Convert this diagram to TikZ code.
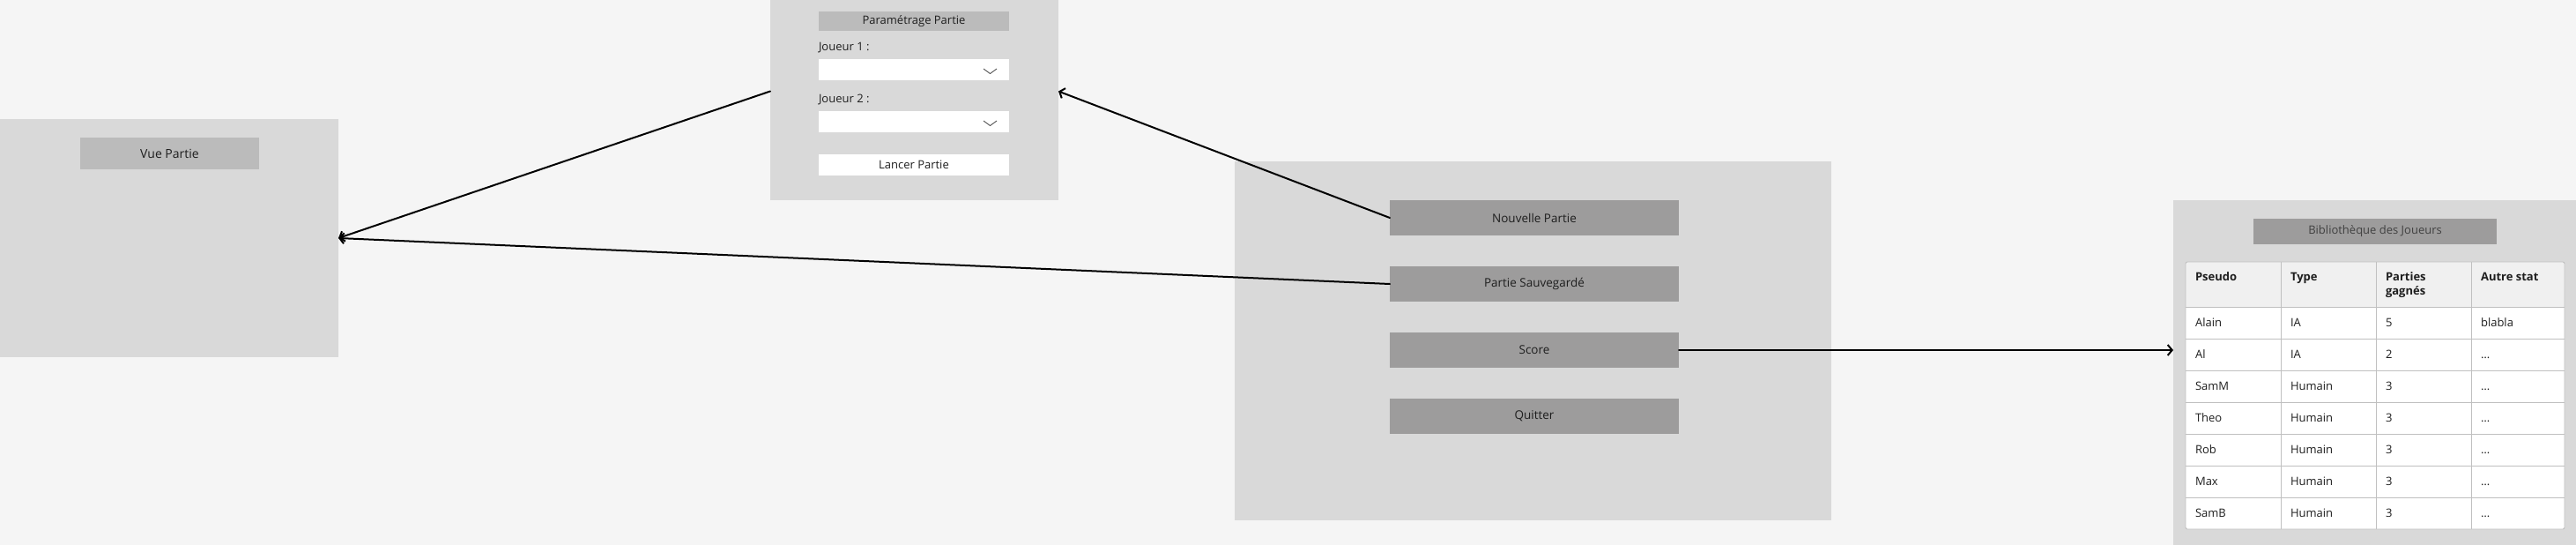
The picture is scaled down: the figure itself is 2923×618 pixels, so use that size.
\documentclass[tikz,border=0pt]{standalone}
\usepackage{fontspec}
\setmainfont{Open Sans}
\usetikzlibrary{arrows.meta,calc}
\definecolor{bg}{HTML}{F5F5F5}
\definecolor{panel}{HTML}{D9D9D9}
\definecolor{titlebar}{HTML}{BBBBBB}
\definecolor{btn}{HTML}{9D9C9C}
\definecolor{ink}{HTML}{1E1E1E}
\definecolor{gridc}{HTML}{C0C0C0}
\definecolor{hdr}{HTML}{F0F0F0}
\definecolor{chev}{HTML}{444444}
\tikzset{
  rectbox/.style={inner sep=0pt, outer sep=0pt, anchor=north west, draw=none},
  panelbox/.style={rectbox, fill=panel},
  titlebox/.style={rectbox, fill=titlebar},
  btnbox/.style={rectbox, fill=btn, minimum width=328pt, minimum height=40pt, font=\fontsize{13.5}{16}\selectfont},
  whitebox/.style={rectbox, fill=white, minimum width=216pt, minimum height=24pt},
  lbl/.style={inner sep=0pt, outer sep=0pt, anchor=base west},
  hd/.style={lbl, font=\fontsize{13}{16}\selectfont\bfseries},
  cell/.style={lbl, font=\fontsize{13}{16}\selectfont},
  conn/.style={draw=black, line width=2pt, line cap=round, -{Straight Barb[length=5pt,width=12pt]}}
}
\begin{document}
\begin{tikzpicture}[x=1pt,y=-1pt, every node/.style={font=\fontsize{13}{16}\selectfont, text=ink}]
\fill[bg] (0,0) rectangle (2923,618);
\useasboundingbox (0,0) rectangle (2923,618);

% Vue Partie
\node[panelbox, minimum width=384pt, minimum height=270pt] (vue) at (0,135) {};
\node[titlebox, minimum width=203pt, minimum height=36pt, font=\fontsize{14}{16}\selectfont] (vuetitle) at (91,156) {Vue Partie};

% Parametrage Partie
\node[panelbox, minimum width=327pt, minimum height=227pt] (param) at (874,0) {};
\node[titlebox, minimum width=216pt, minimum height=22pt] (paramtitle) at (929,13) {Paramétrage Partie};
\node[lbl] (j1) at (929,57.5) {Joueur 1 :};
\node[whitebox] (dd1) at (929,67) {};
\draw[chev, line width=0.8pt] ($(dd1.east)+(-29,-1)$) coordinate (c1a) -- ++(7.5,5.5) -- ++(7.5,-5.5);
\node[lbl] (j2) at (929,116.5) {Joueur 2 :};
\node[whitebox] (dd2) at (929,126) {};
\draw[chev, line width=0.8pt] ($(dd2.east)+(-29,-1)$) coordinate (c2a) -- ++(7.5,5.5) -- ++(7.5,-5.5);
\node[whitebox] (lancer) at (929,175) {Lancer Partie};

% Menu
\node[panelbox, minimum width=677pt, minimum height=407pt] (menu) at (1401,183) {};
\node[btnbox] (nouvelle) at (1577,227) {Nouvelle Partie};
\node[btnbox] (sauv) at (1577,302) {Partie Sauvegardé};
\node[btnbox] (score) at (1577,377) {Score};
\node[btnbox] (quitter) at (1577,452) {Quitter};

% Bibliotheque
\node[panelbox, minimum width=457pt, minimum height=391pt] (biblio) at (2466,227) {};
\node[rectbox, fill=btn, minimum width=276pt, minimum height=29pt, text=ink!85] (bibtitle) at (2557,248) {Bibliothèque des Joueurs};

% table
\fill[white, rounded corners=2pt] (2480,297) rectangle (2910,600);
\fill[hdr, rounded corners=2pt] (2480,297) rectangle (2910,330);
\fill[hdr] (2480,320) rectangle (2910,348.3);
\foreach \k in {0,...,6} {
  \draw[gridc, line width=0.9pt] (2480,348.3+36*\k) -- (2910,348.3+36*\k);
}
\foreach \cx in {2588,2696,2804} {
  \draw[gridc, line width=0.9pt] (\cx,297) -- (\cx,600);
}
\draw[gridc, line width=0.9pt, rounded corners=2pt] (2480,297) rectangle (2910,600);

\node[hd] (h1) at (2491,318.7) {\textbf{Pseudo}};
\node[hd] (h2) at (2599,318.7) {\textbf{Type}};
\node[hd, anchor=north west, align=left] (h3) at (2707,308.7) {\textbf{Parties}\\\textbf{gagnés}};
\node[hd] (h4) at (2815,318.7) {\textbf{Autre stat}};

\foreach \a/\b/\c/\d [count=\i from 0] in {Alain/IA/5/blabla, Al/IA/2/\ldots, SamM/Humain/3/\ldots, Theo/Humain/3/\ldots, Rob/Humain/3/\ldots, Max/Humain/3/\ldots, SamB/Humain/3/\ldots} {
  \node[cell] (r\i a) at (2491,370.7+36*\i) {\a};
  \node[cell] (r\i b) at (2599,370.7+36*\i) {\b};
  \node[cell] (r\i c) at (2707,370.7+36*\i) {\c};
  \node[cell] (r\i d) at (2815,370.7+36*\i) {\d};
}

% connectors
\coordinate (paramin) at ([yshift=10pt]param.east);
\coordinate (paramout) at ([yshift=10pt]param.west);
\draw[conn] (nouvelle.west) -- (paramin);
\draw[conn] (paramout) -- (vue.east);
\draw[conn] (sauv.west) -- (vue.east);
\draw[conn] (score.east) -- (score.east -| biblio.west);
\end{tikzpicture}
\end{document}
